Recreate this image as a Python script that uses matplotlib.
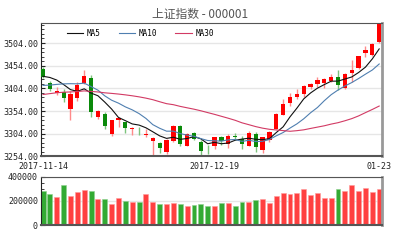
"""Shanghai Composite candlestick chart with MA lines and volume."""

import matplotlib

matplotlib.use("Agg")
import matplotlib.pyplot as plt
import numpy as np
import pandas as pd

dates = [
    "2017-11-14", "2017-11-15", "2017-11-16", "2017-11-17", "2017-11-20",
    "2017-11-21", "2017-11-22", "2017-11-23", "2017-11-24", "2017-11-27",
    "2017-11-28", "2017-11-29", "2017-11-30", "2017-12-01", "2017-12-04",
    "2017-12-05", "2017-12-06", "2017-12-07", "2017-12-08", "2017-12-11",
    "2017-12-12", "2017-12-13", "2017-12-14", "2017-12-15", "2017-12-18",
    "2017-12-19", "2017-12-20", "2017-12-21", "2017-12-22", "2017-12-25",
    "2017-12-26", "2017-12-27", "2017-12-28", "2017-12-29", "2018-01-02",
    "2018-01-03", "2018-01-04", "2018-01-05", "2018-01-08", "2018-01-09",
    "2018-01-10", "2018-01-11", "2018-01-12", "2018-01-15", "2018-01-16",
    "2018-01-17", "2018-01-18", "2018-01-19", "2018-01-22", "2018-01-23",
]
opens = [
    3446, 3417, 3393, 3395, 3359, 3382, 3417, 3426, 3340, 3348,
    3304, 3335, 3329, 3314, 3311, 3302, 3289, 3283, 3263, 3289,
    3322, 3278, 3305, 3287, 3268.5, 3278, 3296, 3281, 3299, 3293,
    3278, 3303, 3268, 3290, 3314, 3346, 3371, 3386, 3392, 3406,
    3414, 3416, 3421, 3430, 3404, 3437, 3448, 3481, 3478, 3506,
]
highs = [
    3452, 3420, 3406, 3403, 3399, 3418, 3444, 3433, 3357, 3351,
    3334, 3342, 3331, 3320, 3320, 3315, 3296, 3285, 3292, 3324,
    3324, 3306, 3309, 3290, 3279, 3297, 3300, 3303, 3306, 3300,
    3310, 3309, 3298, 3310, 3349, 3380, 3393, 3403, 3412, 3417,
    3430, 3426, 3435, 3444, 3438, 3466, 3475, 3497, 3505, 3547.5,
]
lows = [
    3426, 3398, 3390, 3373, 3335, 3376, 3414, 3340, 3337, 3315,
    3300, 3318, 3306, 3302, 3302, 3297, 3254, 3262, 3260, 3287,
    3278, 3276, 3290, 3258, 3259, 3270, 3280, 3273, 3290, 3270,
    3276, 3264, 3262, 3285, 3314, 3345, 3365, 3380, 3384, 3403,
    3406, 3405, 3418, 3400, 3403, 3418, 3446, 3474, 3475, 3505,
]
closes = [
    3429.55, 3402.52, 3399.25, 3382.91, 3392.40, 3410.50, 3430.46, 3351.92, 3353.82, 3322.23,
    3333.66, 3337.86, 3317.19, 3317.62, 3309.62, 3303.68, 3293.96, 3272.06, 3289.99, 3322.20,
    3280.81, 3303.04, 3292.44, 3266.14, 3267.92, 3296.39, 3287.61, 3300.06, 3297.06, 3280.46,
    3306.12, 3275.78, 3296.38, 3307.17, 3348.33, 3369.11, 3385.71, 3391.75, 3409.48, 3413.90,
    3421.83, 3425.34, 3428.94, 3410.49, 3436.59, 3444.67, 3474.75, 3487.86, 3501.36, 3546.50,
]
volumes = [
    282000, 256000, 234000, 332000, 242000, 276000, 287000, 282000, 220000, 214000,
    175000, 228000, 203000, 189000, 194000, 256000, 189000, 175000, 175000, 180000,
    175000, 155000, 163000, 175000, 161000, 161000, 180000, 180000, 161000, 189000,
    189000, 208000, 220000, 183000, 242000, 268000, 256000, 262000, 301000, 251000,
    268000, 228000, 228000, 301000, 282000, 330000, 282000, 307000, 276000, 296000,
]
# closes of the 29 sessions before the window, needed for the moving averages
prior_closes = [
    3345.27, 3339.64, 3348.94, 3374.38, 3382.99, 3388.28, 3386.10, 3390.52, 3378.47, 3372.04,
    3381.79, 3370.17, 3378.65, 3380.70, 3388.25, 3396.90, 3407.57, 3416.81, 3390.34, 3393.34,
    3395.91, 3383.31, 3371.74, 3388.17, 3413.57, 3415.46, 3427.79, 3432.67, 3447.84,
]
price_ticks = [3254, 3304, 3354, 3404, 3454, 3504]
volume_ticks = [0, 200000, 400000]
date_ticks = ["2017-11-14", "2017-12-19", "2018-01-23"]
date_tick_labels = ["2017-11-14", "2017-12-19", "01-23"]

UP_BODY, UP_WICK, UP_VOL = "#ff0000", "#ff8a8a", "#ff4040"
DOWN_BODY, DOWN_WICK, DOWN_VOL = "#0a8a0a", "#7cc47c", "#33aa33"
MA_COLORS = {"MA5": "#111111", "MA10": "#4f7fb0", "MA30": "#d23a64"}
MONO = "DejaVu Sans Mono"

x = np.arange(len(dates))
o, h, l, c = map(np.asarray, (opens, highs, lows, closes))
up = c >= o

all_closes = pd.Series(prior_closes + closes)
mas = {
    name: all_closes.rolling(n).mean().to_numpy()[len(prior_closes):]
    for name, n in (("MA5", 5), ("MA10", 10), ("MA30", 30))
}

fig = plt.figure(figsize=(4, 2.4), dpi=100)
ax = fig.add_axes([0.1018, 0.348, 0.852, 0.555])
axv = fig.add_axes([0.1018, 0.0613, 0.852, 0.2025])

# candles
ax.vlines(x[up], l[up], h[up], color=UP_WICK, linewidth=1.0, zorder=2)
ax.vlines(x[~up], l[~up], h[~up], color=DOWN_WICK, linewidth=1.0, zorder=2)
body_h = np.maximum(np.abs(c - o), 1.2)
body_b = np.minimum(o, c)
ax.bar(x[up], body_h[up], bottom=body_b[up], width=0.62, color=UP_BODY, linewidth=0, zorder=3)
ax.bar(x[~up], body_h[~up], bottom=body_b[~up], width=0.62, color=DOWN_BODY, linewidth=0, zorder=3)

for name, vals in mas.items():
    ax.plot(x, vals, color=MA_COLORS[name], linewidth=0.8, label=name, zorder=4)

ax.set_xlim(-0.34, 49.34)
ax.set_ylim(3254, 3547.5)
ax.set_yticks(price_ticks)
ax.set_yticklabels([f"{t:.2f}" for t in price_ticks], fontfamily=MONO, fontsize=6)
ax.set_yticks(np.arange(3254, 3548, 10), minor=True)
ax.grid(axis="y", color="#e6e6e6", linewidth=1.0, zorder=0)
ax.set_axisbelow(True)
tick_pos = [dates.index(d) for d in date_ticks]
ax.set_xticks(tick_pos)
ax.set_xticklabels(date_tick_labels, fontfamily=MONO, fontsize=6)
ax.tick_params(axis="x", length=0, pad=4, colors="#222222")
ax.tick_params(axis="y", which="major", direction="in", length=3, pad=2, colors="#222222")
ax.tick_params(axis="y", which="minor", direction="in", length=2, colors="#222222")
ax.legend(loc="upper left", bbox_to_anchor=(0.06, 1.0), ncol=3, frameon=False,
          prop={"family": MONO, "size": 5.5}, handlelength=2.2, columnspacing=2.4,
          handletextpad=0.4, borderaxespad=0.3)

# volume
vol = np.asarray(volumes)
axv.bar(x[up], vol[up], width=0.72, color=UP_VOL, edgecolor="#ff9a9a", linewidth=0.4)
axv.bar(x[~up], vol[~up], width=0.72, color=DOWN_VOL, edgecolor="#8fd08f", linewidth=0.4)
axv.set_xlim(-0.34, 49.34)
axv.set_ylim(0, 400000)
axv.set_yticks(volume_ticks)
axv.set_yticklabels([str(t) for t in volume_ticks], fontfamily=MONO, fontsize=6)
axv.set_yticks(np.arange(0, 400001, 50000), minor=True)
axv.set_xticks([])
axv.grid(axis="y", color="#e6e6e6", linewidth=1.0)
axv.set_axisbelow(True)
axv.tick_params(axis="y", which="major", direction="in", length=3, pad=2, colors="#222222")
axv.tick_params(axis="y", which="minor", direction="in", length=2, colors="#222222")

for a in (ax, axv):
    a.spines["left"].set_color("#222222")
    a.spines["top"].set_color("#555555")
    a.spines["right"].set_color("#999999")
    a.spines["right"].set_linewidth(2.0)
    a.spines["bottom"].set_color("#555555")
    a.spines["bottom"].set_linewidth(1.5)

fig.text(0.5, 0.94, "上证指数 - 000001", ha="center", va="center", fontsize=8.5,
         color="#555555", family=["Noto Sans CJK SC", "DejaVu Sans"])

fig.savefig("out.png", dpi=100)
